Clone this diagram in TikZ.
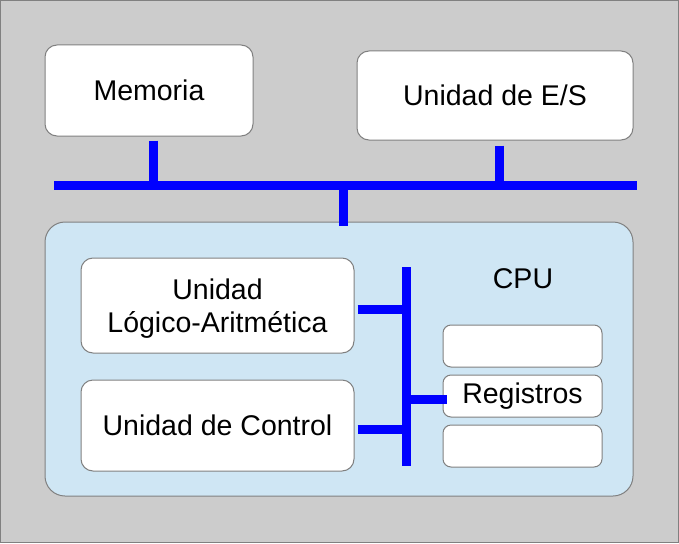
\documentclass[tikz,border=0pt]{standalone}
\usepackage{fontspec}
\setmainfont{Liberation Sans}
\usetikzlibrary{positioning}
\definecolor{bggray}{HTML}{CCCCCC}
\definecolor{edgegray}{HTML}{808080}
\definecolor{cpublue}{HTML}{CFE6F4}
\definecolor{busblue}{HTML}{0000FF}
\begin{document}
\begin{tikzpicture}[x=1pt,y=-1pt,node distance=50pt,on grid,
   unit/.style={draw=edgegray,line width=1pt,fill=white,rounded corners=12pt,
                inner sep=0pt,align=center,font=\fontsize{28.5}{33}\selectfont},
   reg/.style={unit,rounded corners=8pt,minimum width=159pt,minimum height=42pt},
   bus/.style={line width=9pt,busblue}]
   \draw[fill=bggray,draw=edgegray,line width=1pt] (0.5,0.5) rectangle (678.5,542.5);
   \useasboundingbox (0,0) rectangle (679,543);
   \node[unit,minimum width=208pt,minimum height=91pt] (mem) at (149,90.5) {Memoria};
   \node[unit,minimum width=276pt,minimum height=89pt] (es) at (495,95.5) {Unidad de E/S};
   \node[unit,fill=cpublue,rounded corners=20pt,minimum width=588pt,minimum height=274pt] (cpu) at (339,359) {};
   \node[font=\fontsize{28.5}{33}\selectfont] (cpu_label) at (523,279) {CPU};
   \node[unit,minimum width=273pt,minimum height=95pt,text depth=0pt] (alu) at (217.5,305.5) {Unidad\\Lógico-Aritmética};
   \node[unit,minimum width=273pt,minimum height=91pt] (uc) at (217.5,425.5) {Unidad de Control};
   \node[reg] (reg_2) at (522.5,396) {Registros};
   \node[reg] (reg_1) [above=of reg_2] {};
   \node[reg] (reg_3) [below=of reg_2] {};
   \coordinate (bus_l) at (54,185.5);
   \coordinate (bus_r) at (637,185.5);
   \coordinate (ibus_t) at (406.5,267);
   \coordinate (ibus_b) at (406.5,466);
   \coordinate (mem_port) at ([xshift=4.5pt,yshift=-4pt]mem.south);
   \coordinate (es_port) at ([xshift=4pt,yshift=-5pt]es.south);
   \coordinate (cpu_port) at ([xshift=4.5pt,yshift=-4pt]cpu.north);
   \coordinate (alu_port) at ([xshift=3pt,yshift=-4pt]alu.east);
   \coordinate (uc_port) at ([xshift=3pt,yshift=-4pt]uc.east);
   \coordinate (reg_port) at ([xshift=4pt,yshift=-3.5pt]reg_2.west);
   % system bus
   \draw[bus] (bus_l) -- (bus_r);
   \draw[bus] (mem_port) -- (mem_port |- bus_l);
   \draw[bus] (es_port) -- (es_port |- bus_l);
   \draw[bus] (cpu_port |- bus_l) -- (cpu_port);
   % internal bus
   \draw[bus] (ibus_t) -- (ibus_b);
   \draw[bus] (alu_port) -- (ibus_t |- alu_port);
   \draw[bus] (uc_port) -- (ibus_t |- uc_port);
   \draw[bus] (ibus_t |- reg_port) -- (reg_port);
\end{tikzpicture}
\end{document}
